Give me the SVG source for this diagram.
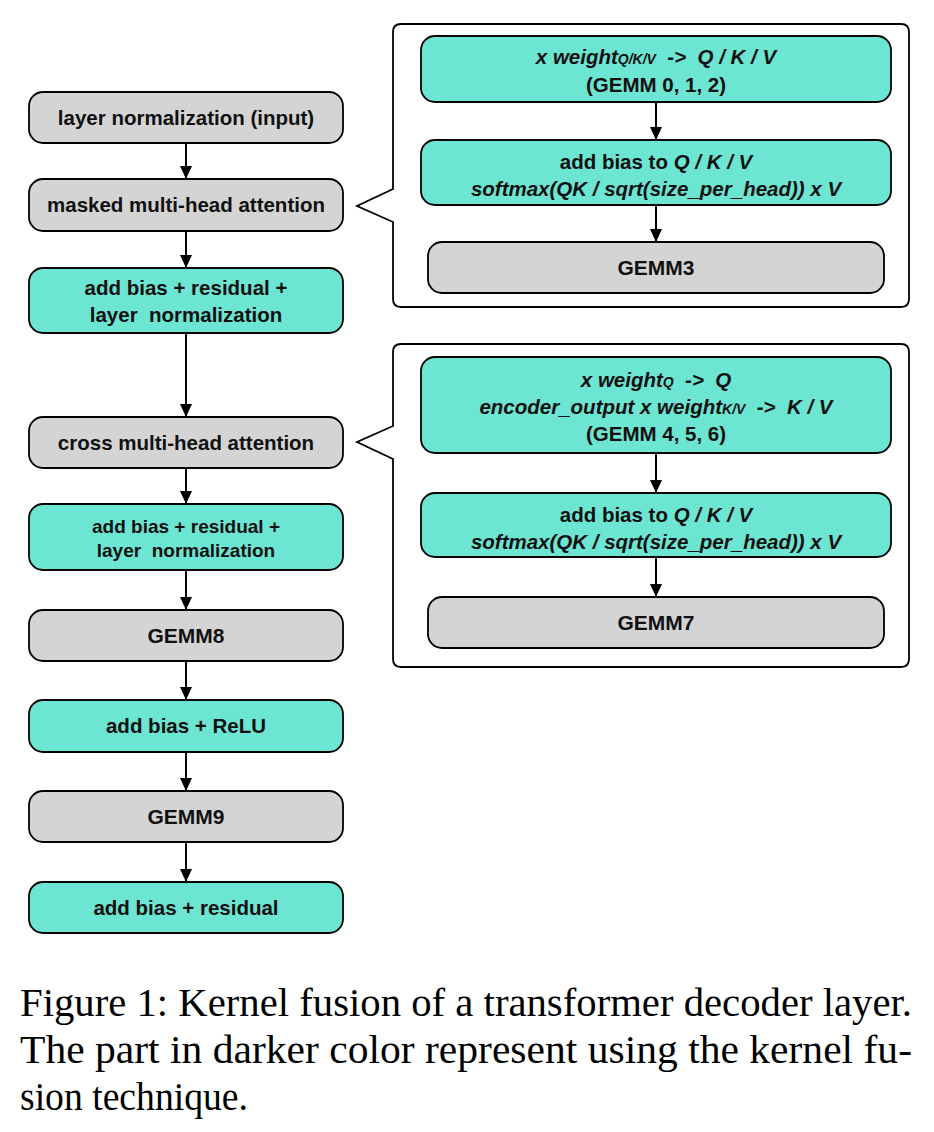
<svg xmlns="http://www.w3.org/2000/svg" width="934" height="1132" viewBox="0 0 934 1132">
<defs>
<marker id="ah" markerWidth="13" markerHeight="12" refX="13" refY="6" orient="auto" markerUnits="userSpaceOnUse" viewBox="0 0 13 12">
<path d="M0,0 L13,6 L0,12 Z" fill="#000"/>
</marker>
<style>
.g{fill:#d4d4d4;stroke:#000;stroke-width:1.8}
.t{fill:#6ce5d2;stroke:#000;stroke-width:1.8}
.o{fill:#fff;stroke:#000;stroke-width:1.8}
.c{stroke:#000;stroke-width:2;fill:none}
text{font-family:"Liberation Sans",Arial,sans-serif;font-weight:bold;fill:#111;text-anchor:middle;white-space:pre}
.l{font-size:20.5px}
.s{font-size:19px}
.m{font-size:21px}
.r{font-size:20.5px}
.i{font-style:italic}
.sub{font-size:14px}
.cap{font-family:"Liberation Serif","Times New Roman",serif;font-weight:normal;font-size:39px;text-anchor:start;fill:#000}
</style>
</defs>

<g id="callout1">
<path class="o" d="M401,24 H901 Q909,24 909,32 V299 Q909,307 901,307 H401 Q393,307 393,299 V222 L357,206 L393,189 V32 Q393,24 401,24 Z"/>
</g>
<g id="callout2">
<path class="o" d="M401,344 H901 Q909,344 909,352 V659 Q909,667 901,667 H401 Q393,667 393,659 V459 L357,442 L393,426 V352 Q393,344 401,344 Z"/>
</g>

<g id="n1"><rect class="g" x="29" y="92" width="314" height="51" rx="14"/><text class="l" x="186" y="125">layer normalization (input)</text></g>
<g id="n2"><rect class="g" x="29" y="179" width="314" height="52" rx="14"/><text class="l" x="186" y="212">masked multi-head attention</text></g>
<g id="n3"><rect class="t" x="29" y="268" width="314" height="65" rx="14"/><text class="l" x="186" y="295">add bias + residual +</text><text class="l" x="186" y="322">layer  normalization</text></g>
<g id="n4"><rect class="g" x="29" y="417" width="314" height="51" rx="14"/><text class="l" x="186" y="450">cross multi-head attention</text></g>
<g id="n5"><rect class="t" x="29" y="504" width="314" height="66" rx="14"/><text class="s" x="186" y="533">add bias + residual +</text><text class="s" x="186" y="557">layer  normalization</text></g>
<g id="n6"><rect class="g" x="29" y="610" width="314" height="51" rx="14"/><text class="m" x="186" y="643">GEMM8</text></g>
<g id="n7"><rect class="t" x="29" y="700" width="314" height="52" rx="14"/><text class="l" x="186" y="733">add bias + ReLU</text></g>
<g id="n8"><rect class="g" x="29" y="791" width="314" height="51" rx="14"/><text class="m" x="186" y="824">GEMM9</text></g>
<g id="n9"><rect class="t" x="29" y="882" width="314" height="51" rx="14"/><text class="l" x="186" y="915">add bias + residual</text></g>

<g id="a1"><rect class="t" x="421" y="36" width="470" height="66" rx="14"/>
<text class="r i" x="656" y="64">x weight<tspan class="sub">Q/K/V</tspan>  -&gt;  Q / K / V</text>
<text class="r" x="656" y="92">(GEMM 0, 1, 2)</text></g>
<g id="a2"><rect class="t" x="421" y="140" width="470" height="65" rx="14"/>
<text class="r" x="656" y="169">add bias to <tspan class="i">Q / K / V</tspan></text>
<text class="r i" x="656" y="196">softmax(QK / sqrt(size_per_head)) x V</text></g>
<g id="a3"><rect class="g" x="428" y="242" width="456" height="51" rx="14"/><text class="m" x="656" y="275">GEMM3</text></g>

<g id="b1"><rect class="t" x="421" y="357" width="470" height="96" rx="14"/>
<text class="r i" x="656" y="387">x weight<tspan class="sub">Q</tspan>  -&gt;  Q</text>
<text class="r i" x="656" y="414">encoder_output x weight<tspan class="sub">K/V</tspan>  -&gt;  K / V</text>
<text class="r" x="656" y="441">(GEMM 4, 5, 6)</text></g>
<g id="b2"><rect class="t" x="421" y="493" width="470" height="64" rx="14"/>
<text class="r" x="656" y="522">add bias to <tspan class="i">Q / K / V</tspan></text>
<text class="r i" x="656" y="549">softmax(QK / sqrt(size_per_head)) x V</text></g>
<g id="b3"><rect class="g" x="428" y="597" width="456" height="51" rx="14"/><text class="m" x="656" y="630">GEMM7</text></g>

<g id="connectors">
<line class="c" x1="186" y1="143" x2="186" y2="179" marker-end="url(#ah)"/>
<line class="c" x1="186" y1="231" x2="186" y2="268" marker-end="url(#ah)"/>
<line class="c" x1="186" y1="333" x2="186" y2="417" marker-end="url(#ah)"/>
<line class="c" x1="186" y1="468" x2="186" y2="504" marker-end="url(#ah)"/>
<line class="c" x1="186" y1="570" x2="186" y2="610" marker-end="url(#ah)"/>
<line class="c" x1="186" y1="661" x2="186" y2="700" marker-end="url(#ah)"/>
<line class="c" x1="186" y1="752" x2="186" y2="791" marker-end="url(#ah)"/>
<line class="c" x1="186" y1="842" x2="186" y2="882" marker-end="url(#ah)"/>
<line class="c" x1="656" y1="102" x2="656" y2="140" marker-end="url(#ah)"/>
<line class="c" x1="656" y1="205" x2="656" y2="242" marker-end="url(#ah)"/>
<line class="c" x1="656" y1="453" x2="656" y2="493" marker-end="url(#ah)"/>
<line class="c" x1="656" y1="557" x2="656" y2="597" marker-end="url(#ah)"/>
</g>

<g id="caption">
<text class="cap" x="20" y="1016" textLength="892" lengthAdjust="spacingAndGlyphs">Figure 1: Kernel fusion of a transformer decoder layer.</text>
<text class="cap" x="20" y="1063" textLength="892" lengthAdjust="spacingAndGlyphs">The part in darker color represent using the kernel fu-</text>
<text class="cap" x="20" y="1110" textLength="228" lengthAdjust="spacingAndGlyphs">sion technique.</text>
</g>
</svg>
